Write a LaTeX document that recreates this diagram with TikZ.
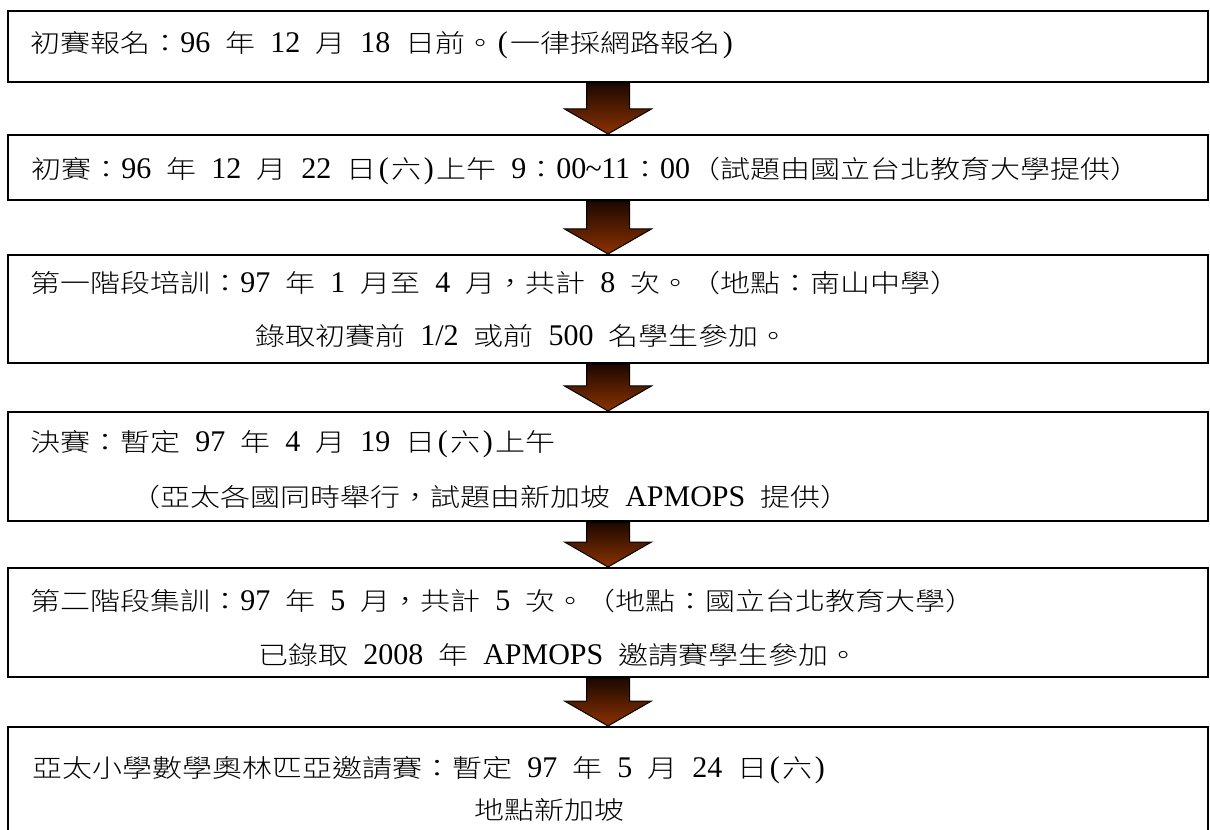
\documentclass[tikz,border=0pt]{standalone}
\usepackage{fontspec}
\IfFontExistsTF{Noto Sans CJK TC Light}
  {\setmainfont[FakeStretch=1.2]{Noto Sans CJK TC Light}}
  {\setmainfont[FakeStretch=1.2]{Noto Sans CJK TC}}
\newfontfamily\latf{Liberation Serif}
\usetikzlibrary{calc}
\newlength\PX \setlength\PX{0.75pt}
\newcommand\hs{\hspace{11.25pt}}
\newcommand\la[1]{{\fontsize{22.5pt}{24pt}\latf #1}}
\newcommand\hp[1]{\makebox[11.25pt][c]{\la{#1}}}
\definecolor{arrtop}{RGB}{28,8,0}
\definecolor{arrbot}{RGB}{140,50,0}
\newcommand\blockarr[2]{%
  \path[blockarrow] ($(#1.south)+(-21.5,0)$) -- ($(#2.north)+(-21.5,-25)$)
    -- ($(#2.north)+(-43.5,-25)$) -- (#2.north) -- ($(#2.north)+(43.5,-25)$)
    -- ($(#2.north)+(21.5,-25)$) -- ($(#1.south)+(21.5,0)$) -- cycle;}
\begin{document}
\begin{tikzpicture}[x=0.75pt,y=-0.75pt,
  box/.style={draw=black, line width=2\PX, minimum width=1200\PX, anchor=north, inner sep=0pt, fill=white},
  txt/.style={anchor=base west, inner sep=0pt, font=\fontsize{18.75pt}{22pt}\selectfont},
  blockarrow/.style={top color=arrtop, bottom color=arrbot, draw=black, line width=1\PX, line join=miter}]
\useasboundingbox (0,0) rectangle (1210,830);
\clip (0,0) rectangle (1210,830);
\fill[white] (0,0) rectangle (1210,830);
\node[box, minimum height=71\PX] (b1) at (608,10) {};
\node[box, minimum height=65\PX] (b2) at (608,134) {};
\node[box, minimum height=108\PX] (b3) at (608,254) {};
\node[box, minimum height=109\PX] (b4) at (608,411) {};
\node[box, minimum height=109\PX] (b5) at (608,567) {};
\node[box, minimum height=130\PX] (b6) at (608,726) {};
\blockarr{b1}{b2}
\blockarr{b2}{b3}
\blockarr{b3}{b4}
\blockarr{b4}{b5}
\blockarr{b5}{b6}
\node[txt] (t1) at (30,53) {初賽報名：\la{96}\hs 年\hs\la{12}\hs 月\hs\la{18}\hs 日前。\hp{(}一律採網路報名\hp{)}};
\node[txt] (t2) at (31,179) {初賽：\la{96}\hs 年\hs\la{12}\hs 月\hs\la{22}\hs 日\hp{(}六\hp{)}上午\hs\la{9}：\la{00}\hp{\textasciitilde}\la{11}：\la{00}（試題由國立台北教育大學提供）};
\node[txt] (t3a) at (30,293) {第一階段培訓：\la{97}\hs 年\hs\la{1}\hs 月至\hs\la{4}\hs 月，共計\hs\la{8}\hs 次。（地點：南山中學）};
\node[txt] (t3b) at (255,346) {錄取初賽前\hs\la{1/2}\hs 或前\hs\la{500}\hs 名學生參加。};
\node[txt] (t4a) at (30,451) {決賽：暫定\hs\la{97}\hs 年\hs\la{4}\hs 月\hs\la{19}\hs 日\hp{(}六\hp{)}上午};
\node[txt] (t4b) at (130,506) {（亞太各國同時舉行，試題由新加坡\hs\la{APMOPS}\hs 提供）};
\node[txt] (t5a) at (30,610) {第二階段集訓：\la{97}\hs 年\hs\la{5}\hs 月，共計\hs\la{5}\hs 次。（地點：國立台北教育大學）};
\node[txt] (t5b) at (258,664) {已錄取\hs\la{2008}\hs 年\hs\la{APMOPS}\hs 邀請賽學生參加。};
\node[txt] (t6a) at (32,777) {亞太小學數學奧林匹亞邀請賽：暫定\hs\la{97}\hs 年\hs\la{5}\hs 月\hs\la{24}\hs 日\hp{(}六\hp{)}};
\node[txt] (t6b) at (474,819) {地點新加坡};
\end{tikzpicture}
\end{document}
